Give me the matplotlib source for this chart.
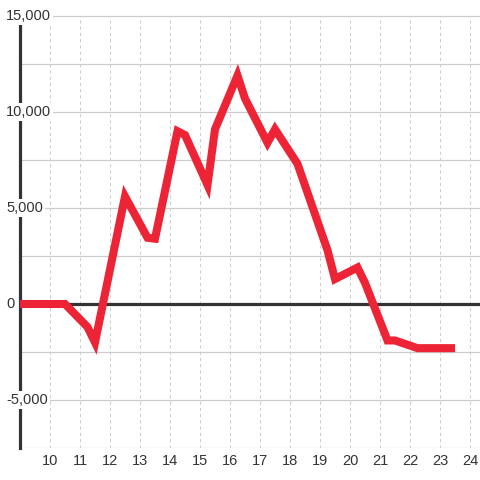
import matplotlib
matplotlib.use("Agg")
import matplotlib.pyplot as plt

# hour of day vs. value
hours = [9, 10.5, 11.25, 11.5, 12.5, 13.25, 13.5, 14.25, 14.5, 15.25, 15.5,
         16.25, 16.5, 17.25, 17.5, 18.25, 19.25, 19.5, 20.25, 20.5, 21.25,
         21.5, 22.25, 23.5]
values = [0, 0, -1200, -2000, 5600, 3450, 3400, 9000, 8800, 6200, 9100,
          11900, 10700, 8400, 9100, 7300, 2800, 1300, 1900, 1100, -1900,
          -1900, -2300, -2300]

x_ticks = list(range(10, 25))
y_grid = [-7500, -5000, -2500, 0, 2500, 5000, 7500, 10000, 12500, 15000]
y_labels = [-5000, 0, 5000, 10000, 15000]

plt.rcParams['font.family'] = ['Liberation Sans', 'DejaVu Sans']

fig = plt.figure(figsize=(4.8, 4.8), dpi=100)
fig.patch.set_facecolor('white')
ax = fig.add_axes([20 / 480, 32 / 480, 460 / 480, 448 / 480])
ax.set_facecolor('white')
ax.set_xlim(9, 24.333)
ax.set_ylim(-7500, 15833)

# grid
ax.hlines(y_grid, 9, 24.333, color='#cccccc', lw=0.9, zorder=1)
ax.vlines(x_ticks, -7500, 15000, color='#cccccc', lw=0.75,
          linestyles=(0, (3, 3)), zorder=1)
ax.axhline(0, color='#333333', lw=2.3, zorder=2)

# series
ax.plot(hours, values, color='#ed2336', lw=5.8, solid_joinstyle='miter',
        solid_capstyle='butt', zorder=5)

# axes styling
for s in ['top', 'right', 'bottom']:
    ax.spines[s].set_visible(False)
ax.spines['left'].set_color('#333333')
ax.spines['left'].set_linewidth(2.3)
ax.spines['left'].set_bounds(-7500, 14583)

ax.set_xticks(x_ticks)
ax.set_xticklabels([str(h) for h in x_ticks])
ax.tick_params(axis='x', length=0, pad=4, labelsize=10.5, labelcolor='#333333')
ax.set_yticks([])

for v in y_labels:
    ax.text(-14 / 460, v, f"{v:,}", transform=ax.get_yaxis_transform(),
            ha='left', va='center', fontsize=10.5, color='#333333',
            bbox=dict(fc='white', ec='none', pad=1.5), zorder=4, clip_on=False)

fig.savefig('out.png', dpi=100)
